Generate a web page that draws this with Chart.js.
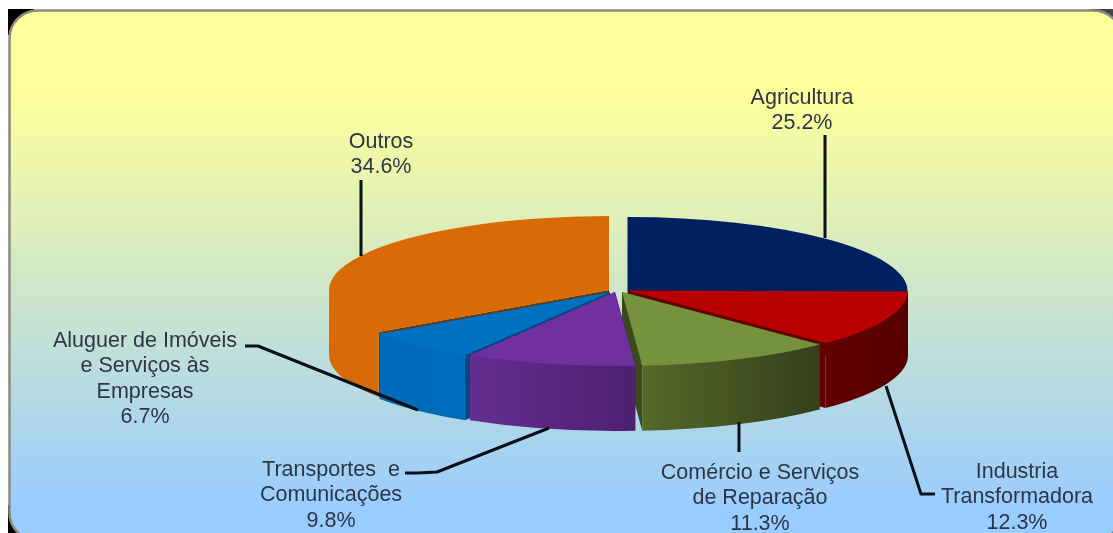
<!DOCTYPE html>
<html lang="pt">
<head>
<meta charset="utf-8">
<title>Estrutura por sector</title>
<script src="https://cdn.jsdelivr.net/npm/chart.js@4"></script>
<style>
  html, body { margin: 0; padding: 0; background: #fff; }
  canvas { display: block; }
</style>
</head>
<body>
<canvas id="pie" width="1113" height="533"></canvas>
<script>
// Sector shares, clockwise from twelve o'clock
const categories = [
  'Agricultura',
  'Industria Transformadora',
  'Comércio e Serviços de Reparação',
  'Transportes e Comunicações',
  'Aluguer de Imóveis e Serviços às Empresas',
  'Outros'
];
const shares = [25.2, 12.3, 11.3, 9.8, 6.7, 34.6];

// Wrapped caption lines, one list per sector
const captionLines = [
  ['Agricultura'],
  ['Industria', 'Transformadora'],
  ['Comércio e Serviços', 'de Reparação'],
  ['Transportes  e', 'Comunicações'],
  ['Aluguer de Imóveis', 'e Serviços às', 'Empresas'],
  ['Outros']
];

const topColours = ['#002060', '#B80000', '#76923C', '#7030A0', '#0070C0', '#D86A08'];
const wallFrom = ['#001040', '#640000', '#56682A', '#652C92', '#006AB8', '#D86A08'];
const wallTo = ['#001040', '#540000', '#33401A', '#4E2070', '#006CBA', '#D66908'];
const faceColours = ['#001040', '#640000', '#3A4A1A', '#3E1A60', '#004A80', '#703804'];

// Pie projection: ellipse radii, extrusion height and each wedge's tip
const RX = 280, RY = 74, DEPTH = 65;
const tips = [[627.5, 291], [628, 290.5], [622, 292], [615, 292], [610, 292], [609, 290]];
// Back-to-front paint order
const paintOrder = [0, 5, 1, 4, 2, 3];

// Caption anchors: centre x, first-line centre y, line step
const captionAt = [[802, 98], [1017, 472], [760, 473], [331, 470], [145, 341], [381, 142]];
const LINE_STEP = 25.5;

// Leader lines from caption to wedge
const leaders = [
  [[825, 135], [825, 238]],
  [[886, 386], [921, 494], [935, 494]],
  [[739, 422], [739, 452]],
  [[549, 428], [437, 472], [418, 473], [405, 473]],
  [[245, 346], [258, 346], [418, 410]],
  [[361, 180], [361, 256]]
];

const pie3d = {
  id: 'pie3d',
  beforeDraw(chart) {
    const ctx = chart.ctx, w = chart.width, h = chart.height;
    ctx.save();
    ctx.fillStyle = '#fff';
    ctx.fillRect(0, 0, w, h);
    // dark corners showing behind the rounded panel
    ctx.fillStyle = '#000';
    ctx.fillRect(8, 9, 26, 26);
    ctx.fillRect(8, 505, 26, 28);
    ctx.fillStyle = '#444';
    ctx.fillRect(1090, 9, 23, 26);

    const g = ctx.createLinearGradient(0, 30, 0, 510);
    g.addColorStop(0, '#FFFF99');
    g.addColorStop(0.12, '#FFFF99');
    g.addColorStop(1, '#99CCFF');
    ctx.beginPath();
    ctx.roundRect(9.5, 10.5, 1112, 530, 28);
    ctx.fillStyle = g;
    ctx.fill();
    ctx.lineWidth = 2.5;
    ctx.strokeStyle = '#8A8A80';
    ctx.stroke();
    ctx.restore();
  },
  beforeDatasetsDraw(chart) {
    const ctx = chart.ctx;
    const arcs = chart.getDatasetMeta(0).data;
    paintOrder.forEach(i => {
      const el = arcs[i];
      const [tx, ty] = tips[i];
      const a0 = el.startAngle, a1 = el.endAngle;
      const pt = a => [tx + RX * Math.cos(a), ty + RY * Math.sin(a)];

      // radial cut faces
      ctx.fillStyle = faceColours[i];
      [a0, a1].forEach(a => {
        const [px, py] = pt(a);
        ctx.beginPath();
        ctx.moveTo(tx, ty);
        ctx.lineTo(px, py);
        ctx.lineTo(px, py + DEPTH);
        ctx.lineTo(tx, ty + DEPTH);
        ctx.closePath();
        ctx.fill();
      });

      // outer wall, only the part facing the viewer; its upper edge runs
      // slightly under the top face so no seam opens along the rim
      const w0 = Math.max(a0, 0), w1 = Math.min(a1, Math.PI);
      if (w1 > w0) {
        const [sx] = pt(w0), [ex] = pt(w1);
        const grad = ctx.createLinearGradient(ex, 0, sx, 0);
        grad.addColorStop(0, wallFrom[i]);
        grad.addColorStop(1, wallTo[i]);
        ctx.beginPath();
        ctx.ellipse(tx, ty - 2, RX, RY, 0, w0, w1);
        ctx.ellipse(tx, ty + DEPTH, RX, RY, 0, w1, w0, true);
        ctx.closePath();
        ctx.fillStyle = grad;
        ctx.fill();
      }

      // top face: the library's own arc element under the projection
      ctx.save();
      ctx.translate(tx, ty);
      ctx.scale(RX / el.outerRadius, RY / el.outerRadius);
      ctx.translate(-el.x, -el.y);
      el.draw(ctx);
      ctx.restore();
    });
    return false;
  },
  afterDraw(chart) {
    const ctx = chart.ctx;
    ctx.save();
    ctx.strokeStyle = '#0A0F18';
    ctx.lineWidth = 3;
    ctx.lineJoin = 'round';
    leaders.forEach(path => {
      ctx.beginPath();
      path.forEach(([x, y], k) => k ? ctx.lineTo(x, y) : ctx.moveTo(x, y));
      ctx.stroke();
    });

    ctx.fillStyle = '#2C3646';
    ctx.font = '21.5px "Liberation Sans", Arial, sans-serif';
    ctx.textAlign = 'center';
    ctx.textBaseline = 'middle';
    captionLines.forEach((lines, i) => {
      const [cx, cy] = captionAt[i];
      [...lines, shares[i].toFixed(1) + '%'].forEach((text, k) => {
        ctx.fillText(text, cx, cy + k * LINE_STEP);
      });
    });
    ctx.restore();
  }
};

new Chart(document.getElementById('pie'), {
  type: 'pie',
  data: {
    labels: categories,
    datasets: [{ data: shares, backgroundColor: topColours, borderWidth: 0 }]
  },
  options: {
    responsive: false,
    animation: false,
    events: [],
    plugins: { legend: { display: false }, tooltip: { enabled: false } }
  },
  plugins: [pie3d]
});
</script>
</body>
</html>
